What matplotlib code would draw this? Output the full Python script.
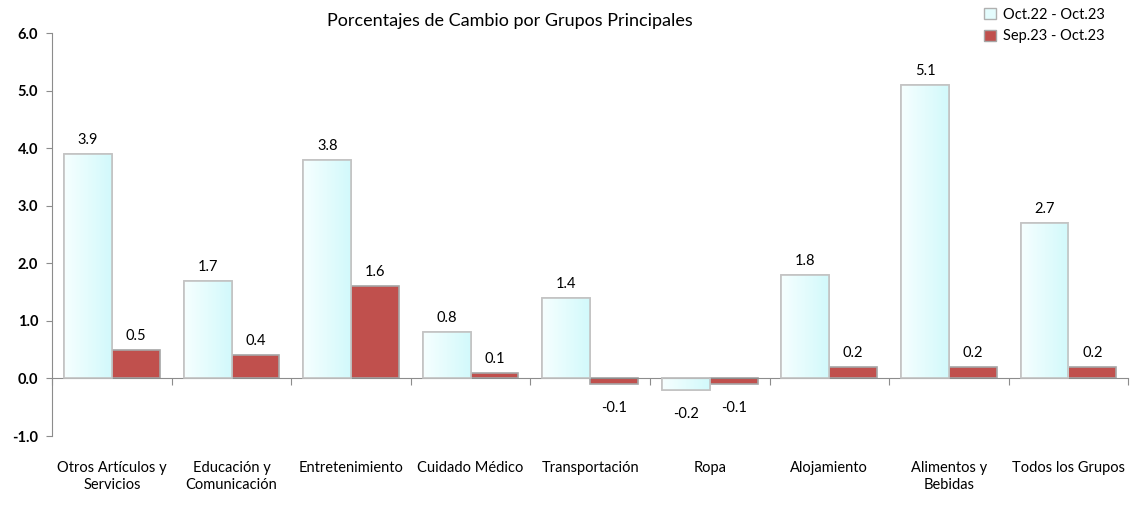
import numpy as np
import matplotlib
matplotlib.use('Agg')
import matplotlib.pyplot as plt
from matplotlib.patches import Patch
from matplotlib.colors import LinearSegmentedColormap

plt.rcParams['font.family'] = ['Lato', 'DejaVu Sans']

categorias = ['Otros Artículos y\nServicios', 'Educación y\nComunicación', 'Entretenimiento',
              'Cuidado Médico', 'Transportación', 'Ropa', 'Alojamiento',
              'Alimentos y\nBebidas', 'Todos los Grupos']
anual = [3.9, 1.7, 3.8, 0.8, 1.4, -0.2, 1.8, 5.1, 2.7]
mensual = [0.5, 0.4, 1.6, 0.1, -0.1, -0.1, 0.2, 0.2, 0.2]
serie_nombres = ['Oct.22 - Oct.23', 'Sep.23 - Oct.23']

fig = plt.figure(figsize=(11.35, 5.16), dpi=100)
ax = fig.add_axes([0.046, 0.155, 0.948, 0.781])

x = np.arange(len(categorias))
w = 0.4
grad = LinearSegmentedColormap.from_list('cian', ['#f6ffff', '#d2f9fb'])

b1 = ax.bar(x - w / 2, anual, w, color='#e4fcfd', edgecolor='#c3c3c3', linewidth=1.2, zorder=2)
b2 = ax.bar(x + w / 2, mensual, w, color='#c0504d', edgecolor='#a6a6a6', linewidth=1.2, zorder=2)

# degradado en las barras claras
g = np.linspace(0, 1, 64).reshape(1, -1)
for r in b1:
    x0, y0 = r.get_x(), r.get_y()
    im = ax.imshow(g, cmap=grad, aspect='auto', zorder=2.5,
                   extent=[x0, x0 + r.get_width(), y0, y0 + r.get_height()])
    im.set_clip_path(r)
    ax.add_patch(plt.Rectangle((x0, y0), r.get_width(), r.get_height(), fill=False,
                               edgecolor='#c3c3c3', linewidth=1.2, zorder=3))

for bars, vals in ((b1, anual), (b2, mensual)):
    for r, v in zip(bars, vals):
        cx = r.get_x() + r.get_width() / 2
        if v >= 0:
            ax.annotate(f'{v:.1f}', (cx, v), xytext=(0, 5), textcoords='offset points',
                        ha='center', va='bottom', fontsize=10.5)
        else:
            ax.annotate(f'{v:.1f}', (cx, v), xytext=(0, -12), textcoords='offset points',
                        ha='center', va='top', fontsize=10.5)

ax.set_xlim(-0.5, len(categorias) - 0.5)
ax.set_ylim(-1, 6)
ax.set_yticks(np.arange(-1, 7, 1))
ax.set_yticklabels([f'{t:.1f}' for t in np.arange(-1, 7, 1)], fontweight='bold', fontsize=10.5)
ax.set_xticks(np.arange(-0.5, len(categorias), 1))
ax.set_xticklabels([])
ax.tick_params(axis='x', direction='out', length=5, color='#8c8c8c')
ax.tick_params(axis='y', direction='out', length=4, color='#8c8c8c', pad=6)

for s in ('top', 'right'):
    ax.spines[s].set_visible(False)
ax.spines['bottom'].set_position(('data', 0))
ax.spines['bottom'].set_color('#8c8c8c')
ax.spines['left'].set_color('#8c8c8c')

for xi, c in zip(x, categorias):
    ax.text(xi, -0.062, c, transform=ax.get_xaxis_transform(), ha='center', va='top',
            fontsize=10.5, linespacing=1.3)

fig.text(0.449, 0.96, 'Porcentajes de Cambio por Grupos Principales', ha='center', va='center',
         fontsize=13)

handles = [Patch(facecolor='#e4fcfd', edgecolor='#b0b0b0'),
           Patch(facecolor='#c0504d', edgecolor='#a6a6a6')]
fig.legend(handles, serie_nombres, loc='upper right', bbox_to_anchor=(0.985, 1.01), frameon=False,
           fontsize=10.5, handlelength=0.8, handleheight=0.8, handletextpad=0.5, labelspacing=0.5)

fig.savefig('out.png', dpi=100)
